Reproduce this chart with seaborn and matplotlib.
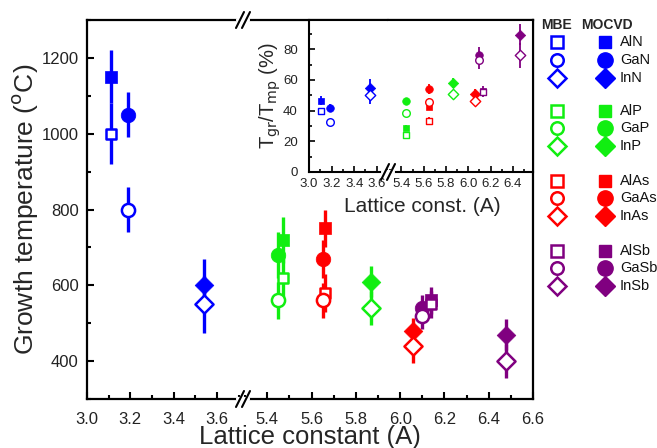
import numpy as np
import pandas as pd
import matplotlib
matplotlib.use("Agg")
import matplotlib.pyplot as plt
from matplotlib.lines import Line2D
from matplotlib.ticker import MultipleLocator
import seaborn as sns

sns.set_theme(style="ticks")
plt.rcParams['font.family'] = ['Liberation Sans', 'DejaVu Sans']

# ---------------- data ----------------
compounds = ['AlN', 'GaN', 'InN', 'AlP', 'GaP', 'InP',
             'AlAs', 'GaAs', 'InAs', 'AlSb', 'GaSb', 'InSb']
lattice = [3.11, 3.19, 3.54, 5.47, 5.45, 5.87, 5.66, 5.65, 6.06, 6.14, 6.10, 6.48]
T_mocvd = [1150, 1050, 600, 720, 680, 610, 750, 670, 480, 560, 540, 470]
T_mbe = [1000, 800, 550, 620, 560, 540, 580, 560, 440, 550, 520, 400]
err_mocvd = [70, 60, 70, 60, 60, 40, 50, 50, 35, 35, 35, 40]
err_mbe = [80, 60, 75, 60, 50, 45, 50, 45, 45, 35, 35, 45]

lattice_in = [3.11, 3.19, 3.54, 5.445, 5.445, 5.86, 5.65, 5.65, 6.06, 6.13, 6.10, 6.46]
R_mocvd = [46.5, 42, 54.5, 28.5, 46.5, 58, 42.5, 54, 51, 53, 76.5, 89.5]
R_mbe = [40, 32.5, 50, 24, 38.5, 50.5, 33.5, 45.5, 46.5, 52, 73, 76]
rerr_mocvd = [3, 2, 6, 2, 2, 3, 2, 3, 3, 3, 5, 7]
rerr_mbe = [2, 2, 6, 2, 2, 3, 2, 3, 3, 3, 6, 8]

group_colors = ['#0000ff'] * 3 + ['#11ee11'] * 3 + ['#ff0000'] * 3 + ['#800080'] * 3
shapes = ['s', 'o', 'D'] * 4

df = pd.DataFrame({
    'compound': compounds * 2,
    'lattice': lattice * 2,
    'T': T_mocvd + T_mbe,
    'err': err_mocvd + err_mbe,
    'lattice_in': lattice_in * 2,
    'R': R_mocvd + R_mbe,
    'rerr': rerr_mocvd + rerr_mbe,
    'method': ['MOCVD'] * 12 + ['MBE'] * 12,
    'color': group_colors * 2,
    'marker': shapes * 2,
})

W, H = 657, 448
fig = plt.figure(figsize=(W / 100, H / 100), dpi=100)


def fx(x):
    return x / W


def fy(y):
    return (H - y) / H


# main axes (broken x axis)
ax1 = fig.add_axes([fx(87), fy(399), (243 - 87) / W, (399 - 20) / H])
ax2 = fig.add_axes([fx(243), fy(399), (533 - 243) / W, (399 - 20) / H])
# inset axes (broken x axis)
iax1 = fig.add_axes([fx(309), fy(172), (388 - 309) / W, (172 - 20) / H], zorder=5)
iax2 = fig.add_axes([fx(388), fy(172), (533 - 388) / W, (172 - 20) / H], zorder=5)

main_sizes = {'s': 80, 'o': 110, 'D': 90}
open_sizes = {'s': 60, 'o': 90, 'D': 85}
in_sizes = {'s': 25, 'o': 30, 'D': 28}


def draw(ax, xlo, xhi, xcol, ycol, ecol, sizes, osizes, elw, olw):
    sub = df[(df[xcol] >= xlo) & (df[xcol] <= xhi)]
    for _, r in sub.iterrows():
        ax.errorbar(r[xcol], r[ycol], yerr=r[ecol], fmt='none', ecolor=r['color'],
                    elinewidth=elw, capsize=0, zorder=2)
    for _, r in sub.iterrows():
        if r['method'] == 'MOCVD':
            sns.scatterplot(x=[r[xcol]], y=[r[ycol]], marker=r['marker'], color=r['color'],
                            s=sizes[r['marker']], edgecolor=r['color'], linewidth=0.5,
                            ax=ax, zorder=3, legend=False)
        else:
            sns.scatterplot(x=[r[xcol]], y=[r[ycol]], marker=r['marker'], color='white',
                            s=osizes[r['marker']], edgecolor=r['color'], linewidth=olw,
                            ax=ax, zorder=4, legend=False)


draw(ax1, 3.0, 3.72, 'lattice', 'T', 'err', main_sizes, open_sizes, 2.4, 1.8)
draw(ax2, 5.29, 6.6, 'lattice', 'T', 'err', main_sizes, open_sizes, 2.4, 1.8)
draw(iax1, 3.0, 3.70, 'lattice_in', 'R', 'rerr', in_sizes, in_sizes, 1.3, 1.0)
draw(iax2, 5.28, 6.58, 'lattice_in', 'R', 'rerr', in_sizes, in_sizes, 1.3, 1.0)

tick_col = '#222222'
for ax in (ax1, ax2):
    ax.set_ylim(300, 1300)
    ax.yaxis.set_major_locator(MultipleLocator(200))
    ax.yaxis.set_minor_locator(MultipleLocator(100))
    ax.xaxis.set_major_locator(MultipleLocator(0.2))
    ax.xaxis.set_minor_locator(MultipleLocator(0.1))
    for s in ax.spines.values():
        s.set_linewidth(1.6)
        s.set_color('black')
    ax.tick_params(which='both', direction='in', top=False, right=False, width=1.5,
                   labelsize=12, labelcolor=tick_col, color='black')
    ax.tick_params(which='major', length=5, pad=6)
    ax.tick_params(axis='x', which='major', pad=9)
    ax.tick_params(which='minor', length=3)
    ax.set_xlabel('')
    ax.set_ylabel('')
    ax.set_facecolor('white')

ax1.set_xlim(3.0, 3.72)
ax2.set_xlim(5.29, 6.6)
ax1.spines['right'].set_visible(False)
ax2.spines['left'].set_visible(False)
ax2.tick_params(axis='y', which='both', left=False, labelleft=False)
ax1.set_xticks([3.0, 3.2, 3.4, 3.6])
ax1.set_xticklabels(['3.0', '3.2', '3.4', '3.6'])
ax2.set_xticks([5.4, 5.6, 5.8, 6.0, 6.2, 6.4, 6.6])
ax2.set_xticklabels(['5.4', '5.6', '5.8', '6.0', '6.2', '6.4', '6.6'])
ax1.set_ylabel('Growth temperature ($^{\\rm o}$C)', fontsize=19, labelpad=1)
fig.text(fx(310), fy(437), 'Lattice constant (A)', fontsize=18.5, ha='center', va='center')

for ax in (iax1, iax2):
    ax.set_ylim(0, 99)
    ax.yaxis.set_major_locator(MultipleLocator(20))
    ax.yaxis.set_minor_locator(MultipleLocator(10))
    ax.xaxis.set_major_locator(MultipleLocator(0.2))
    ax.xaxis.set_minor_locator(MultipleLocator(0.1))
    for s in ax.spines.values():
        s.set_linewidth(1.5)
        s.set_color('black')
    ax.tick_params(which='both', direction='in', top=False, right=False, width=1.2,
                   labelsize=9.5, labelcolor=tick_col, color='black')
    ax.tick_params(which='major', length=4, pad=4)
    ax.tick_params(axis='y', which='major', pad=8)
    ax.tick_params(which='minor', length=2.5)
    ax.set_xlabel('')
    ax.set_ylabel('')
    ax.set_facecolor('white')
iax1.set_xlim(3.0, 3.70)
iax2.set_xlim(5.28, 6.58)
iax1.spines['right'].set_visible(False)
iax2.spines['left'].set_visible(False)
iax2.tick_params(axis='y', which='both', left=False, labelleft=False)
iax1.set_xticks([3.0, 3.2, 3.4, 3.6])
iax1.set_xticklabels(['3.0', '3.2', '3.4', '3.6'])
iax2.set_xticks([5.4, 5.6, 5.8, 6.0, 6.2, 6.4])
iax2.set_xticklabels(['5.4', '5.6', '5.8', '6.0', '6.2', '6.4'])
iax1.set_ylabel('T$_{\\rm gr}$/T$_{\\rm mp}$ (%)', fontsize=14.5, labelpad=0)
fig.text(fx(422), fy(206), 'Lattice const. (A)', fontsize=15, ha='center', va='center', zorder=6)


# break marks
def break_mark(xp, yp, z=10):
    fig.add_artist(Line2D([fx(xp - 5), fx(xp + 5)], [fy(yp), fy(yp)], color='white',
                          lw=3, transform=fig.transFigure, zorder=z))
    for dx in (-3, 3):
        fig.add_artist(Line2D([fx(xp + dx - 4), fx(xp + dx + 4)], [fy(yp + 8), fy(yp - 8)],
                              color='black', lw=1.5, transform=fig.transFigure, zorder=z + 1))


break_mark(243, 399)
break_mark(243, 20)
break_mark(388, 172)

# legend panel
lax = fig.add_axes([0, 0, 1, 1], zorder=8)
lax.set_xlim(0, W)
lax.set_ylim(H, 0)
lax.axis('off')
lax.patch.set_alpha(0)
lax.text(557, 25, 'MBE', fontsize=10, fontweight='bold', ha='center', va='center')
lax.text(607, 25, 'MOCVD', fontsize=10, fontweight='bold', ha='center', va='center')
rows_y = [42, 60, 78, 111, 128, 146, 181, 198, 216, 251, 268, 286]
leg_open = {'s': 8, 'o': 9, 'D': 9}
leg_fill = {'s': 9, 'o': 11, 'D': 10}
for name, yy, col, mk in zip(compounds, rows_y, group_colors, shapes):
    lax.plot([557], [yy], marker=mk, ms=leg_open[mk], mfc='white', mec=col, mew=1.8, ls='none')
    lax.plot([605], [yy], marker=mk, ms=leg_fill[mk], mfc=col, mec=col, ls='none')
    lax.text(620, yy, name, fontsize=10.5, ha='left', va='center', color='#111111')

fig.savefig('out.png', dpi=100)
